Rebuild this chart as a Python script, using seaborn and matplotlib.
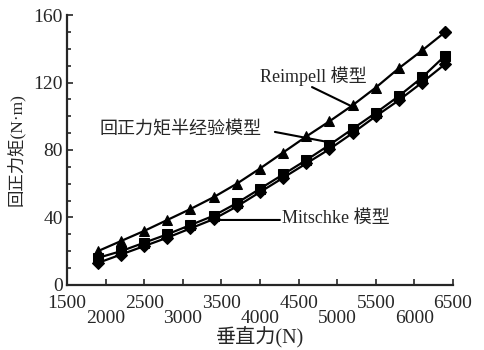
import numpy as np
import pandas as pd
import seaborn as sns
import matplotlib
matplotlib.use('Agg')
import matplotlib.pyplot as plt
from matplotlib.ticker import MultipleLocator

# 垂直力 (N)
force = [1900, 2200, 2500, 2800, 3100, 3400, 3700, 4000,
         4300, 4600, 4900, 5200, 5500, 5800, 6100, 6400]

# 回正力矩 (N·m)
reimpell = [20, 26, 32, 38.5, 45, 52, 60, 69,
            78.5, 88, 97, 106.5, 117, 128.5, 139, 150]
semi_empirical = [16, 20, 25, 30, 35.5, 41, 48.5, 57,
                  65.5, 74, 83, 92.5, 102, 112, 123, 136]
mitschke = [13, 18, 23, 28, 33.5, 39, 46.5, 55,
            63.5, 72, 80.5, 90, 100, 109.5, 120, 131]

x_ticks = [1500, 2000, 2500, 3000, 3500, 4000, 4500, 5000, 5500, 6000, 6500]
y_ticks = [0, 40, 80, 120, 160]

sns.set_style('ticks')
plt.rcParams['font.family'] = ['Liberation Serif', 'Noto Sans CJK SC']
plt.rcParams['axes.unicode_minus'] = False

fig = plt.figure(figsize=(4.85, 3.5), dpi=100)
ax = fig.add_axes([0.138, 0.186, 0.796, 0.771])

df = pd.DataFrame({'force': force, 'reimpell': reimpell,
                   'semi': semi_empirical, 'mitschke': mitschke})

sns.lineplot(data=df, x='force', y='mitschke', ax=ax, color='black', lw=1.6,
             marker='D', markersize=6, markeredgecolor='black')
sns.lineplot(data=df, x='force', y='semi', ax=ax, color='black', lw=1.6,
             marker='s', markersize=6.5, markeredgecolor='black')
sns.lineplot(data=df.iloc[:-1], x='force', y='reimpell', ax=ax, color='black', lw=1.6,
             marker='^', markersize=7.5, markeredgecolor='black')
sns.lineplot(data=df.iloc[-2:], x='force', y='reimpell', ax=ax, color='black', lw=1.6)
ax.plot(df['force'].iloc[-1], df['reimpell'].iloc[-1], marker='D', color='black', markersize=6)

ax.set_xlim(1500, 6500)
ax.set_ylim(0, 160)
ax.set_xticks(x_ticks)
ax.set_xticklabels([str(t) if i % 2 == 0 else '\n' + str(t) for i, t in enumerate(x_ticks)])
ax.set_yticks(y_ticks)
ax.yaxis.set_minor_locator(MultipleLocator(10))
ax.tick_params(axis='both', direction='in', length=4, width=1.2, labelsize=14)
ax.tick_params(axis='x', pad=7)
ax.tick_params(axis='y', pad=3)
ax.tick_params(axis='y', which='minor', direction='in', length=3, width=1.2)
for t in ax.get_xticklabels():
    t.set_linespacing(0.85)

for s in ['left', 'bottom']:
    ax.spines[s].set_linewidth(1.6)
sns.despine(ax=ax)

ax.set_xlabel('垂直力(N)', fontsize=14.5, labelpad=0)
ax.set_ylabel('回正力矩(N·m)', fontsize=12.5, labelpad=6)

line = dict(arrowstyle='-', color='black', lw=1.5, shrinkA=0, shrinkB=0)
ax.text(4000, 123.9, 'Reimpell 模型', fontsize=13, va='center', ha='left')
ax.annotate('', xy=(5205, 105.5), xytext=(4674, 117.3), arrowprops=line)
ax.text(1927, 91.9, '回正力矩半经验模型', fontsize=13, va='center', ha='left')
ax.annotate('', xy=(4881, 84.7), xytext=(4194, 90.7), arrowprops=line)
ax.text(4285, 39.5, 'Mitschke 模型', fontsize=13, va='center', ha='left')
ax.annotate('', xy=(3456, 38.5), xytext=(4259, 38.5), arrowprops=line)

fig.savefig('out.png', dpi=100)
